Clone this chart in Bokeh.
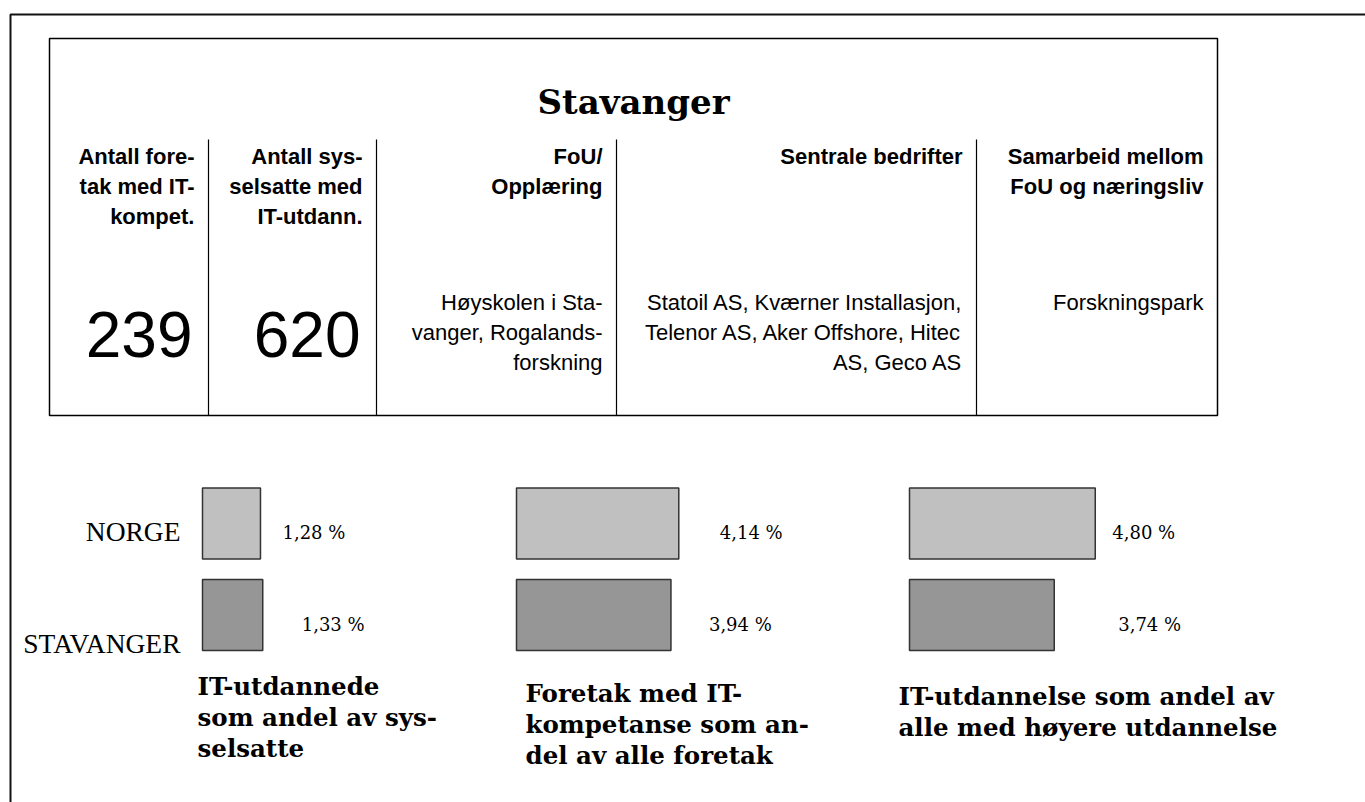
from bokeh.plotting import figure
from bokeh.models import Range1d, ColumnDataSource
from bokeh.core.properties import value
from bokeh.embed import file_html
from bokeh.resources import INLINE

# ---------------- data ----------------
city = "Stavanger"
header_labels = [
    "Antall fore-\ntak med IT-\nkompet.",
    "Antall sys-\nselsatte med\nIT-utdann.",
    "FoU/\nOpplæring",
    "Sentrale bedrifter",
    "Samarbeid mellom\nFoU og næringsliv",
]
count_values = [239, 620]
detail_texts = [
    "Høyskolen i Sta-\nvanger, Rogalands-\nforskning",
    "Statoil AS, Kværner Installasjon,\nTelenor AS, Aker Offshore, Hitec\nAS, Geco AS",
    "Forskningspark",
]
series_names = ["NORGE", "STAVANGER"]
norge_pct = [1.28, 4.14, 4.80]
stavanger_pct = [1.33, 3.94, 3.74]
panel_titles = [
    "IT-utdannede\nsom andel av sys-\nselsatte",
    "Foretak med IT-\nkompetanse som an-\ndel av alle foretak",
    "IT-utdannelse som andel av\nalle med høyere utdannelse",
]

# ---------------- layout / style ----------------
W, H = 1365, 802
SANS = "Liberation Sans"
SERIF = "DejaVu Serif"
SERIF2 = "Liberation Serif"

col_edges = [49, 208, 376, 616, 976, 1217]
table_top, table_bottom, sep_top = 38, 415, 139

panel_left = [202, 516, 909]          # px where 0 % sits
panel_scale = [45.3, 39.2, 38.7]      # px per percent point
row_center = [523, 614.5]
bar_height = 71
label_dx = [[22, 39], [41, 38], [17, 64]]
title_left = [197, 525, 898]
title_top = [671, 678, 681]

p = figure(width=W, height=H, output_backend="svg", toolbar_location=None,
           x_range=Range1d(0, W), y_range=Range1d(H, 0),
           x_axis_location=None, y_axis_location=None, min_border=0)
p.grid.visible = False
p.outline_line_color = None
p.background_fill_color = "white"

# outer frame (left + top edges)
p.line(x=[10, 10, W + 20], y=[H + 20, 14, 14], line_color="#111111", line_width=2)

# table frame + separators
p.quad(left=[col_edges[0]], right=[col_edges[-1]], top=[table_top], bottom=[table_bottom],
       fill_color=None, line_color="black", line_width=1.5)
p.segment(x0=col_edges[1:-1], y0=[sep_top] * 4, x1=col_edges[1:-1], y1=[table_bottom] * 4,
          line_color="black", line_width=1.2)

# title
p.text(x=[(col_edges[0] + col_edges[-1]) / 2], y=[101], text=[city],
       text_font=value(SERIF), text_font_style="bold", text_font_size="34px",
       text_align="center", text_baseline="alphabetic", text_color="black")

# headers
p.text(x=[e - 14 for e in col_edges[1:]], y=[143] * len(header_labels), text=header_labels,
       text_font=value(SANS), text_font_style="bold", text_font_size="22px",
       text_align="right", text_baseline="top", text_line_height=1.2, text_color="black")

# counts
p.text(x=[e - 16 for e in col_edges[1:3]], y=[334] * 2, text=[str(v) for v in count_values],
       text_font=value(SANS), text_font_size="64px",
       text_align="right", text_baseline="alphabetic", text_color="black")

# detail texts
p.text(x=[e - 14 for e in col_edges[3:]], y=[289] * 3, text=detail_texts,
       text_font=value(SANS), text_font_size="22px",
       text_align="right", text_baseline="top", text_line_height=1.2, text_color="black")

# row labels
p.text(x=[180, 180], y=[531, 643], text=series_names,
       text_font=value(SERIF2), text_font_size="27.5px",
       text_align="right", text_baseline="alphabetic", text_color="black")

# bars per panel
for i in range(3):
    name = f"panel{i}"
    s = panel_scale[i]
    p.extra_x_ranges[name] = Range1d(-panel_left[i] / s, (W - panel_left[i]) / s)
    vals = [norge_pct[i], stavanger_pct[i]]
    src = ColumnDataSource(dict(
        y=row_center, right=vals, left=[0, 0],
        color=["#c0c0c0", "#969696"],
        label=[f"{v:.2f}".replace(".", ",") + " %" for v in vals],
        dx=label_dx[i],
    ))
    p.hbar(y="y", left="left", right="right", height=bar_height, fill_color="color",
           line_color="#333333", line_width=1.5, source=src, x_range_name=name)
    p.text(x="right", y="y", text="label", x_offset="dx", y_offset=9, source=src,
           x_range_name=name, text_font=value(SERIF), text_font_size="18px",
           text_align="left", text_baseline="middle", text_color="black")

# panel titles
p.text(x=title_left, y=title_top, text=panel_titles,
       text_font=value(SERIF), text_font_style="bold", text_font_size="24.5px",
       text_align="left", text_baseline="top", text_line_height=1.07, text_color="black")

open("out.html", "w").write(file_html(p, INLINE))
